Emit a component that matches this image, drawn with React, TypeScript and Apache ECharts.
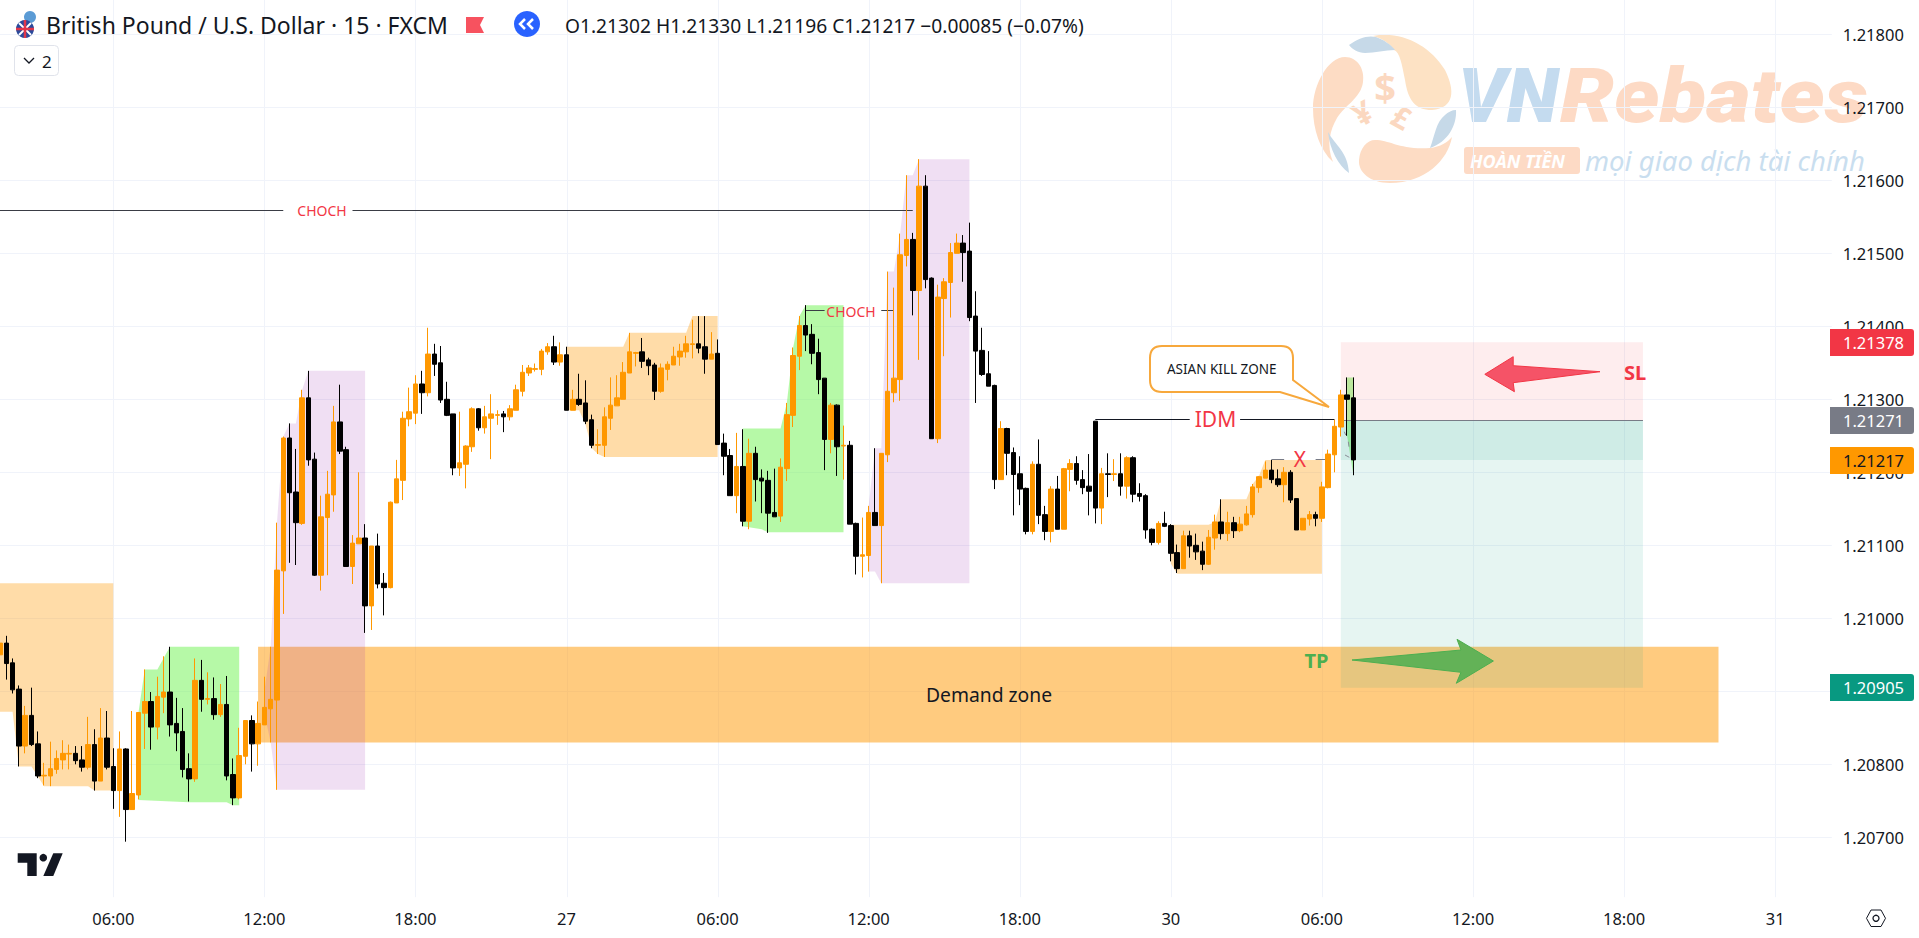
import React, { useEffect, useRef } from "react";
import * as echarts from "echarts";

// Candles, in 1/100000 of a price: [open, high, low, close]
const candleRows: number[][] = [
[120950,120996,120936,120966],[120966,120976,120916,120938],[120939,120945,120897,120902],[120903,120908,120797,120825],
[120825,120880,120815,120867],[120867,120905,120825,120827],[120828,120845,120781,120784],[120784,120802,120771,120785],
[120784,120831,120770,120794],[120793,120819,120787,120808],[120806,120833,120793,120815],[120814,120827,120793,120815],
[120815,120825,120800,120805],[120806,120825,120790,120796],[120796,120865,120793,120827],[120827,120848,120764,120777],
[120777,120877,120777,120836],[120836,120873,120793,120796],[120797,120822,120739,120764],[120764,120845,120728,120821],
[120821,120822,120694,120738],[120738,120873,120738,120760],[120758,120871,120752,120871],[120870,120930,120821,120886],
[120886,120899,120820,120851],[120851,120920,120834,120893],[120892,120948,120870,120899],[120899,120961,120838,120854],
[120856,120891,120818,120843],[120845,120877,120782,120793],[120794,120815,120749,120780],[120780,120945,120776,120915],
[120915,120943,120872,120889],[120889,120926,120882,120890],[120890,120919,120861,120868],[120868,120910,120865,120882],
[120882,120921,120778,120784],[120786,120808,120744,120754],[120754,120850,120752,120812],[120811,120860,120800,120860],
[120860,120867,120790,120828],[120828,120886,120798,120856],[120854,120920,120854,120878],[120876,120961,120830,120889],
[120888,121131,120765,121066],[121065,121249,121006,121247],[121247,121267,121076,121172],[121173,121232,121073,121131],
[121130,121313,121128,121302],[121302,121339,121209,121217],[121218,121227,121058,121059],[121059,121168,121038,121139],
[121138,121202,121059,121170],[121169,121291,121146,121269],[121269,121320,121225,121229],[121231,121235,121071,121071],
[121071,121114,121047,121103],[121102,121200,121102,121110],[121110,121129,120980,121017],[121017,121099,120984,121099],
[121099,121116,121041,121047],[121048,121062,121004,121042],[121042,121160,121041,121159],[121158,121217,121158,121191],
[121189,121283,121162,121274],[121273,121316,121263,121283],[121281,121333,121266,121321],[121321,121339,121280,121309],
[121309,121398,121304,121362],[121362,121376,121332,121348],[121350,121373,121295,121299],[121300,121324,121277,121278],
[121280,121280,121196,121206],[121206,121283,121195,121213],[121211,121237,121178,121236],[121235,121289,121228,121287],
[121287,121288,121257,121261],[121261,121291,121253,121276],[121274,121307,121218,121280],[121278,121285,121265,121279],
[121280,121284,121255,121276],[121276,121292,121271,121287],[121285,121320,121285,121313],[121311,121347,121304,121337],
[121336,121347,121332,121343],[121341,121349,121338,121342],[121341,121369,121333,121366],[121365,121377,121361,121372],
[121372,121387,121347,121351],[121351,121378,121346,121361],[121361,121372,121285,121285],[121285,121313,121285,121300],
[121300,121335,121291,121293],[121295,121326,121266,121270],[121272,121279,121233,121237],[121237,121259,121225,121238],
[121237,121289,121221,121276],[121274,121330,121258,121292],[121291,121333,121291,121302],[121300,121351,121300,121337],
[121336,121391,121336,121365],[121363,121365,121345,121364],[121365,121384,121343,121352],[121354,121357,121333,121346],
[121347,121350,121299,121311],[121311,121349,121309,121343],[121341,121352,121326,121348],[121347,121372,121347,121359],
[121358,121376,121346,121366],[121365,121387,121357,121376],[121375,121409,121356,121376],[121376,121414,121363,121370],
[121372,121414,121335,121355],[121355,121392,121355,121362],[121363,121382,121238,121238],[121240,121253,121196,121222],
[121223,121232,121168,121168],[121168,121254,121144,121208],[121208,121259,121126,121133],[121133,121246,121122,121226],
[121226,121235,121160,121190],[121192,121204,121144,121188],[121189,121202,121117,121144],[121145,121205,121139,121139],
[121140,121219,121132,121207],[121205,121295,121188,121279],[121278,121371,121262,121360],[121359,121414,121340,121401],
[121401,121429,121366,121388],[121389,121403,121348,121363],[121364,121383,121307,121327],[121329,121329,121203,121245],
[121245,121295,121226,121292],[121292,121293,121195,121235],[121236,121264,121190,121237],[121237,121243,121129,121129],
[121130,121131,121060,121085],[121085,121138,121056,121087],[121086,121154,121064,121145],[121145,121233,121127,121127],
[121127,121226,121048,121226],[121224,121475,121214,121311],[121309,121453,121296,121329],[121327,121527,121298,121498],
[121497,121607,121482,121519],[121519,121528,121415,121449],[121449,121629,121354,121592],[121592,121607,121452,121464],
[121466,121467,121246,121246],[121246,121457,121240,121440],[121438,121466,121359,121461],[121460,121514,121412,121501],
[121500,121527,121500,121514],[121514,121525,121461,121501],[121503,121542,121407,121412],[121414,121448,121295,121366],
[121367,121398,121332,121334],[121335,121366,121318,121318],[121319,121320,121177,121190],[121190,121270,121190,121260],
[121260,121261,121196,121226],[121227,121234,121141,121197],[121198,121222,121155,121177],[121178,121179,121115,121119],
[121119,121215,121115,121211],[121211,121245,121129,121141],[121142,121154,121107,121119],[121119,121181,121104,121177],
[121177,121195,121122,121122],[121122,121206,121122,121205],[121204,121218,121174,121212],[121212,121222,121183,121189],
[121190,121203,121170,121179],[121181,121225,121141,121174],[121270,121270,121130,121151],[121151,121206,121129,121198],
[121198,121226,121166,121197],[121197,121218,121188,121198],[121198,121226,121168,121181],[121181,121222,121164,121220],
[121220,121222,121159,121170],[121171,121185,121160,121167],[121168,121170,121109,121121],[121122,121123,121100,121104],
[121104,121133,121101,121130],[121130,121146,121125,121126],[121127,121129,121078,121089],[121090,121101,121062,121068],
[121068,121120,121068,121113],[121113,121120,121083,121099],[121100,121116,121080,121091],[121092,121105,121066,121074],
[121074,121121,121073,121111],[121110,121142,121094,121132],[121132,121163,121108,121116],[121116,121146,121106,121131],
[121131,121139,121110,121120],[121120,121139,121118,121129],[121128,121154,121127,121143],[121142,121184,121138,121180],
[121179,121195,121172,121194],[121192,121215,121192,121203],[121203,121217,121185,121190],[121191,121204,121180,121183],
[121183,121207,121159,121200],[121200,121203,121158,121162],[121164,121164,121121,121121],[121121,121137,121121,121137],
[121136,121147,121127,121142],[121142,121146,121126,121137],[121137,121187,121132,121180],[121179,121231,121178,121225],
[121224,121272,121200,121263],[121262,121313,121249,121306],[121306,121330,121250,121300],[121302,121330,121196,121217],
];

const tickBars = [18, 42, 66, 90, 114, 138, 162, 186, 210, 234, 258, 282];
const tickTexts = ["06:00", "12:00", "18:00", "27", "06:00", "12:00", "18:00", "30", "06:00", "12:00", "18:00", "31"];
const barSlots = 292;

// Shaded areas: [bar, price in 1/100000]
const session1Top = [[0,121048],[18,121048]];
const session1Bottom = [[0,120872],[2,120872],[3,120797],[5,120797],[7,120770],[14,120770],[15,120764],[18,120764]];
const session2Top = [[22,120871],[23,120930],[25,120930],[27,120961],[38,120961]];
const session2Bottom = [[22,120751],[30,120748],[36,120748],[37,120744],[38,120744]];
const session3Top = [[42,120900],[43,120961],[44,121131],[45,121249],[46,121267],[47,121267],[48,121313],[49,121339],[58,121339]];
const session3Bottom = [[42,120870],[43,120830],[44,120765],[58,120765]];
const session4Top = [[90,121372],[99,121372],[100,121391],[109,121391],[110,121414],[114,121414]];
const session4Bottom = [[90,121285],[92,121285],[93,121266],[94,121233],[95,121225],[96,121221],[114,121221]];
const session5Top = [[118,121260],[124,121260],[125,121295],[126,121371],[127,121414],[128,121429],[134,121429]];
const session5Bottom = [[118,121126],[121,121122],[122,121118],[134,121118]];
const session6Top = [[138,121154],[139,121233],[140,121233],[141,121475],[142,121475],[143,121527],[144,121607],[145,121607],[146,121629],[154,121629]];
const session6Bottom = [[138,121064],[139,121064],[140,121048],[154,121048]];
const session7Top = [[186,121128],[192,121128],[193,121132],[194,121163],[198,121163],[199,121184],[200,121195],[201,121217],[210,121217]];
const session7Bottom = [[186,121075],[187,121061],[210,121061]];
const session8Top = [[214,121330],[215,121330]];
const session8Bottom = [[214,121250],[215,121196]];
const demandTop = [[41,120961],[273,120961]];
const demandBottom = [[41,120830],[273,120830]];
const riskTop = [[213,121378],[261,121378]];
const riskBottom = [[213,121271],[261,121271]];
const rewardTop = [[213,121271],[261,121271]];
const rewardBottom = [[213,120905],[261,120905]];
const openProfitTop = [[213,121271],[261,121271]];
const openProfitBottom = [[213,121217],[261,121217]];

// Horizontal annotation lines: [bar from, bar to, price]
const chochLines = [[0,45,121560],[56,145,121560],[128,131,121422],[140,142,121422]];
const idmLines = [[174,189,121273],[197,212,121273]];
const xLines = [[202,204,121218],[209,211,121218]];
const entryLines = [[213,261,121271]];

const yMin = 1.206;
const yMax = 1.219;
const yStep = 0.001;
const visibleBottom = 1.20618;

const ORANGE = "rgba(255,152,0,0.34)";
const GREEN = "rgba(110,243,80,0.5)";
const PURPLE = "rgba(155,39,176,0.15)";
const zones = [
  { top: demandTop, bottom: demandBottom, fill: "rgba(255,152,0,0.5)" },
  { top: session1Top, bottom: session1Bottom, fill: ORANGE },
  { top: session2Top, bottom: session2Bottom, fill: GREEN },
  { top: session3Top, bottom: session3Bottom, fill: PURPLE },
  { top: session4Top, bottom: session4Bottom, fill: ORANGE },
  { top: session5Top, bottom: session5Bottom, fill: GREEN },
  { top: session6Top, bottom: session6Bottom, fill: PURPLE },
  { top: session7Top, bottom: session7Bottom, fill: ORANGE },
  { top: session8Top, bottom: session8Bottom, fill: GREEN },
  { top: riskTop, bottom: riskBottom, fill: "rgba(242,54,69,0.09)" },
  { top: rewardTop, bottom: rewardBottom, fill: "rgba(8,153,129,0.1)" },
  { top: openProfitTop, bottom: openProfitBottom, fill: "rgba(8,153,129,0.1)" },
];
const allLines = [
  ...chochLines.map((l) => ({ l, color: "#3a3d45" })),
  ...idmLines.map((l) => ({ l, color: "#131722" })),
  ...xLines.map((l) => ({ l, color: "#787b86" })),
  ...entryLines.map((l) => ({ l, color: "#787b86" })),
];

const FONT = '"Noto Sans", sans-serif';
const INK = "#131722";
const RED = "#f23645";

const wmPaths: Record<string, string> = {
  wmA: "M1373 36 C1400 30 1430 45 1445 70 C1455 90 1455 108 1432 110 C1415 110 1408 100 1405 80 C1402 65 1400 52 1394 50 C1390 44 1382 38 1373 36 Z",
  wmB: "M1345 57 C1358 57 1365 70 1363 82 C1361 98 1345 105 1337 118 C1330 130 1326 145 1333 162 C1320 150 1313 130 1313 108 C1313 85 1328 57 1345 57 Z",
  wmC: "M1375 140 C1390 140 1400 150 1430 148 C1440 147 1448 142 1452 137 C1448 160 1425 183 1390 183 C1370 183 1358 172 1359 160 C1360 148 1367 140 1375 140 Z",
  wmD: "M1349 45 C1358 38 1368 35 1376 37 C1384 40 1390 44 1395 50 C1385 50 1375 53 1365 53 C1358 53 1352 49 1349 45 Z",
  wmE: "M1456 110 C1457 125 1448 142 1430 148 C1435 135 1436 122 1445 115 C1448 112 1452 110 1456 110 Z",
  wmF: "M1328 132 C1335 145 1348 152 1349 173 C1338 165 1330 150 1328 132 Z",
};
Object.keys(wmPaths).forEach((k) => {
  echarts.graphic.registerShape(k, (echarts.graphic as any).extendPath(wmPaths[k], {}));
});

function txt(text: string, x: number, y: number, size: number, fill: string, extra: any = {}) {
  return {
    type: "text",
    z: 20,
    silent: true,
    style: { text, x, y, fill, font: `${extra.weight || "normal"} ${size}px ${FONT}`, textAlign: extra.align || "left", textVerticalAlign: "middle" },
  };
}
function badge(text: string, y: number, bg: string, fg: string) {
  return [
    { type: "rect", z: 20, silent: true, shape: { x: 1830, y: y - 13.5, width: 84, height: 27, r: [0, 3, 3, 0] }, style: { fill: bg } },
    txt(text, 1843, y, 16.5, fg),
  ];
}
function poly(points: number[][], fill: string, stroke?: string) {
  return { type: "polygon", z: 15, silent: true, shape: { points }, style: { fill, stroke: stroke || undefined, lineWidth: stroke ? 1 : 0 } };
}

function buildGraphic() {
  const wm = (type: string, fill: string) => ({ type, z: -1, silent: true, style: { fill } });
  const wmText = (text: string, x: number, y: number, font: string, fill: string, rotation = 0, scaleX = 1) => ({
    type: "text", z: -1, silent: true, x, y, rotation, scaleX,
    style: { text, x: 0, y: 0, font, fill, textAlign: "left", textVerticalAlign: "middle" },
  });
  return [
    // watermark
    wm("wmA", "#fde2c4"), wm("wmB", "#fddcc4"), wm("wmC", "#fddcc4"), wm("wmD", "#c6d9e8"), wm("wmE", "#c6d9e8"), wm("wmF", "#c6d9e8"),
    { type: "text", z: -1, silent: true, style: { text: "$", x: 1385, y: 87, fill: "#fbd8c0", font: `bold 38px ${FONT}`, textAlign: "center", textVerticalAlign: "middle" } },
    { ...wmText("¥", 1354, 117, `bold 32px ${FONT}`, "#fbd8c0", 0.5) },
    { ...wmText("£", 1394, 113, `bold 30px ${FONT}`, "#fbd8c0", -0.5) },
    wmText("VN", 1458, 96, `italic 900 76px "Roboto", ${FONT}`, "#c4dbef"),
    wmText("Rebates", 1560, 96, `italic 900 76px "Roboto", ${FONT}`, "#fddac5", 0, 1.13),
    { type: "rect", z: -1, silent: true, shape: { x: 1464, y: 147, width: 116, height: 27, r: 3 }, style: { fill: "#fddac5" } },
    wmText("HOÀN TIỀN", 1470, 161, `italic bold 18px ${FONT}`, "#ffffff"),
    wmText("mọi giao dịch tài chính", 1585, 160, `italic 27.5px ${FONT}`, "#c9deef"),

    // header
    { type: "circle", z: 20, silent: true, shape: { cx: 30, cy: 17, r: 6 }, style: { fill: "#5b9bd5" } },
    { type: "circle", z: 20, silent: true, shape: { cx: 25, cy: 29, r: 9 }, style: { fill: "#2b4a9b" } },
    { type: "line", z: 21, silent: true, shape: { x1: 19, y1: 23, x2: 31, y2: 35 }, style: { stroke: "#fff", lineWidth: 2 } },
    { type: "line", z: 21, silent: true, shape: { x1: 31, y1: 23, x2: 19, y2: 35 }, style: { stroke: "#fff", lineWidth: 2 } },
    { type: "line", z: 21, silent: true, shape: { x1: 25, y1: 20, x2: 25, y2: 38 }, style: { stroke: "#e0364a", lineWidth: 2.5 } },
    { type: "line", z: 21, silent: true, shape: { x1: 16, y1: 29, x2: 34, y2: 29 }, style: { stroke: "#e0364a", lineWidth: 2.5 } },
    txt("British Pound / U.S. Dollar · 15 · FXCM", 46, 25, 23, INK),
    poly([[466, 17], [484, 17], [480, 25], [484, 33], [466, 33]], "#f7525f"),
    { type: "circle", z: 20, silent: true, shape: { cx: 527, cy: 24, r: 13 }, style: { fill: "#2962ff" } },
    { type: "polyline", z: 21, silent: true, shape: { points: [[525, 19], [520, 24], [525, 29]] }, style: { stroke: "#fff", lineWidth: 2.5, fill: "none" } },
    { type: "polyline", z: 21, silent: true, shape: { points: [[533, 19], [528, 24], [533, 29]] }, style: { stroke: "#fff", lineWidth: 2.5, fill: "none" } },
    txt("O1.21302 H1.21330 L1.21196 C1.21217 −0.00085 (−0.07%)", 565, 25, 19.2, INK),
    { type: "rect", z: 20, silent: true, shape: { x: 14.5, y: 45.5, width: 44, height: 30, r: 4 }, style: { fill: "#fff", stroke: "#e0e3eb", lineWidth: 1 } },
    { type: "polyline", z: 21, silent: true, shape: { points: [[24, 58], [29, 63], [34, 58]] }, style: { stroke: INK, lineWidth: 1.3, fill: "none" } },
    txt("2", 42, 61, 17, INK),

    // annotations
    txt("CHOCH", 322, 210, 14, RED, { align: "center" }),
    txt("CHOCH", 851, 311, 14, RED, { align: "center" }),
    txt("IDM", 1215.5, 419, 21, RED, { align: "center" }),
    txt("X", 1300, 459, 21, RED, { align: "center" }),
    txt("SL", 1635, 372, 20, RED, { align: "center", weight: "bold" }),
    txt("TP", 1316.5, 660, 20, "#4caf50", { align: "center", weight: "bold" }),
    txt("Demand zone", 989, 694, 19.3, INK, { align: "center" }),
    poly([[1484.8, 374.3], [1513.2, 356.7], [1513.2, 365.7], [1600, 371.7], [1513.2, 382.7], [1514.4, 391.7]], "#f55367", "#f23645"),
    poly([[1493.4, 661], [1457, 639.3], [1461, 650], [1352, 660], [1461, 672.3], [1456.3, 683.3]], "#63b257", "#4caf50"),
    {
      type: "logoCallout", z: 16, silent: true,
      style: { fill: "#fff", stroke: "#f7a83c", lineWidth: 2 },
    },
    txt("ASIAN KILL ZONE", 1221.7, 369, 13.5, INK, { align: "center" }),
    { type: "line", z: 16, silent: true, shape: { x1: 1344.3, y1: 431.7, x2: 1345.7, y2: 435 }, style: { stroke: "#8a8d96", lineWidth: 1 } },
    { type: "line", z: 16, silent: true, shape: { x1: 1348.3, y1: 441.7, x2: 1349, y2: 446.7 }, style: { stroke: "#8a8d96", lineWidth: 1 } },
    { type: "line", z: 16, silent: true, shape: { x1: 1345, y1: 455, x2: 1349.3, y2: 457.3 }, style: { stroke: "#8a8d96", lineWidth: 1 } },

    // price tags
    ...badge("1.21378", 342.5, RED, "#fff"),
    ...badge("1.21271", 420.5, "#787b86", "#fff"),
    ...badge("1.21217", 460.5, "#ff9800", INK),
    ...badge("1.20905", 687.5, "#089981", "#fff"),

    // TradingView mark
    poly([[17.7, 853.3], [36.7, 853.3], [36.7, 876], [27.3, 876], [27.3, 862.7], [17.7, 862.7]], INK),
    { type: "circle", z: 15, silent: true, shape: { cx: 43.3, cy: 857.7, r: 3.8 }, style: { fill: INK } },
    poly([[53.3, 853.3], [62.7, 853.3], [53.3, 876], [43.3, 876]], INK),

    // settings hexagon
    poly([[1866.5, 918.3], [1871, 910], [1881, 910], [1885.5, 918.3], [1881, 926.5], [1871, 926.5]], "#fff", INK),
    { type: "circle", z: 16, silent: true, shape: { cx: 1876, cy: 918.3, r: 3 }, style: { fill: "#fff", stroke: INK, lineWidth: 1.3 } },
  ];
}

echarts.graphic.registerShape(
  "logoCallout",
  (echarts.graphic as any).extendPath(
    "M1162 346 L1281 346 Q1293 346 1293 358 L1293 380 L1329 407 L1280 392 L1162 392 Q1150 392 1150 380 L1150 358 Q1150 346 1162 346 Z",
    {}
  )
);

export default function App() {
  const ref = useRef<HTMLDivElement>(null);
  useEffect(() => {
    document.body.style.margin = "0";
    const chart = echarts.init(ref.current!, undefined, { renderer: "svg" });
    const toPrice = (v: number) => v / 100000;
    const labelOf: Record<number, string> = {};
    tickBars.forEach((b, i) => (labelOf[b] = tickTexts[i]));
    const categories = Array.from({ length: barSlots }, (_, i) => String(i));
    const candleData = candleRows.map(([o, h, l, c]) => [toPrice(o), toPrice(c), toPrice(l), toPrice(h)]);

    chart.setOption({
      animation: false,
      backgroundColor: "#ffffff",
      grid: { left: 0, top: -38.7, width: 1831.8, height: 949, containLabel: false, outerBoundsMode: "none" },
      xAxis: {
        type: "category",
        data: categories,
        boundaryGap: false,
        axisLine: { show: false },
        axisTick: { show: false },
        splitLine: { show: false },
        axisLabel: {
          interval: (i: number) => labelOf[i] !== undefined,
          formatter: (v: string) => labelOf[Number(v)] || "",
          color: INK,
          fontFamily: FONT,
          fontSize: 16.5,
          margin: 0,
        },
      },
      yAxis: {
        type: "value",
        position: "right",
        min: yMin,
        max: yMax,
        interval: yStep,
        axisLine: { show: false },
        axisTick: { show: false },
        splitLine: { show: true, showMinLine: false, showMaxLine: false, lineStyle: { color: "#f0f3fa", width: 1 } },
        axisLabel: {
          color: INK,
          fontFamily: FONT,
          fontSize: 16.5,
          margin: 11,
          align: "left",
          formatter: (v: number) => (v <= yMin + 1e-6 || v >= yMax - 1e-6 ? "" : v.toFixed(5)),
        },
      },
      graphic: { elements: buildGraphic() },
      series: [
        {
          type: "custom",
          z: 1,
          silent: true,
          data: tickBars.map((b) => [b, 1.21]),
          renderItem: (_p: any, api: any) => {
            const a = api.coord([api.value(0), visibleBottom]);
            const b = api.coord([api.value(0), yMax]);
            const x = Math.round(a[0]) + 0.5;
            return { type: "line", shape: { x1: x, y1: a[1], x2: x, y2: b[1] }, style: { stroke: "#f0f3fa", lineWidth: 1 } };
          },
        },
        {
          type: "custom",
          z: 2,
          silent: true,
          data: zones.map((_, i) => [i, 1.21]),
          renderItem: (p: any, api: any) => {
            const zone = zones[p.dataIndex];
            const tops = zone.top.map(([b, v]) => api.coord([b, toPrice(v)]));
            const bottoms = zone.bottom.map(([b, v]) => api.coord([b, toPrice(v)]));
            return { type: "polygon", shape: { points: [...tops, ...bottoms.reverse()] }, style: { fill: zone.fill } };
          },
        },
        {
          type: "custom",
          z: 3,
          silent: true,
          data: allLines.map((_, i) => [i, 1.21]),
          renderItem: (p: any, api: any) => {
            const item = allLines[p.dataIndex];
            const [from, to, v] = item.l;
            const a = api.coord([from, toPrice(v)]);
            const b = api.coord([to, toPrice(v)]);
            const y = Math.round(a[1]) + 0.5;
            return { type: "line", shape: { x1: a[0], y1: y, x2: b[0], y2: y }, style: { stroke: item.color, lineWidth: 1 } };
          },
        },
        {
          type: "candlestick",
          z: 4,
          silent: true,
          barWidth: 5,
          data: candleData,
          itemStyle: { color: "#ff9800", color0: "#000000", borderColor: "#ff9800", borderColor0: "#000000", borderWidth: 1 },
        },
      ],
    });
    return () => chart.dispose();
  }, []);
  return <div ref={ref} style={{ position: "absolute", left: 0, top: 0, width: 1919, height: 938 }} />;
}
